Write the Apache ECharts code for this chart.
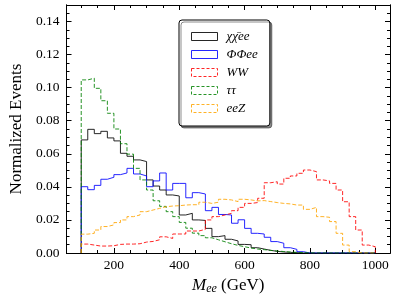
<!DOCTYPE html>
<html>
<head>
<meta charset="utf-8">
<script src="https://cdn.jsdelivr.net/npm/echarts@6/dist/echarts.min.js"></script>
<style>html,body{margin:0;padding:0;background:#fff}#c{width:394px;height:301px}</style>
</head>
<body>
<div id="c"></div>
<script>
// bins: 20 GeV wide from 100 to 1000 GeV
var binStart = 100, binWidth = 20;
var seriesNames = ['χχ̄ee', 'ΦΦee', 'WW', 'ττ', 'eeZ'];
var chiValues = [0.0684,0.0748,0.0722,0.0736,0.0696,0.0678,0.0603,0.0585,0.0563,0.0553,0.0442,0.0405,0.0381,0.0351,
  0.0345,0.0230,0.0240,0.0200,0.0197,0.0149,0.0099,0.0105,0.0083,
  0.0073,0.0052,0.0050,0.0032,0.0024,0.0016,0.0010,0.0006,0.0004,0.0002,
  0,0,0,0,0,0,0,0,0,0,0,0];
var phiValues = [0.0401,0.0383,0.0409,0.0446,0.0458,0.0474,0.0484,0.0512,0.0478,0.0466,0.0401,0.0436,0.0484,
  0.0381,0.0421,0.0421,0.0334,0.0365,0.0357,0.0256,0.0276,0.0233,
  0.0230,0.0180,0.0201,0.0149,0.0119,0.0115,0.0095,0.0069,0.0059,0.0032,0.0022,0.0008,
  0,0,0,0,0,0,0,0,0,0,0];
var wwValues = [0.0054,0.0048,0.0042,0.0042,0.0044,0.0052,0.0054,0.0054,0.0056,0.0066,0.0070,0.0080,0.0098,
  0.0088,0.0115,0.0115,0.0133,0.0133,0.0143,0.0200,0.0220,0.0230,0.0240,0.0256,0.0276,0.0300,0.0305,0.0331,
  0.0425,0.0431,0.0417,0.0452,0.0466,0.0482,0.0502,0.0492,0.0442,0.0436,0.0421,0.0381,0.0310,0.0220,0.0139,0.0048,0.0038];
var tautauValues = [0.1047,0.1057,0.0996,0.0921,0.0845,0.0750,0.0661,0.0598,0.0512,0.0442,0.0381,0.0316,0.0282,
  0.0250,0.0220,0.0185,0.0150,0.0120,0.0105,0.0092,0.0080,0.0068,0.0056,0.0046,0.0038,0.0030,0.0024,0.0020,
  0.0016,0.0012,0.0009,0.0006,0.0004,0.0002,0.0001,0,0,0,0,0,0,0,0,0,0];
var eeZValues = [0.0114,0.0119,0.0139,0.0160,0.0170,0.0184,0.0200,0.0220,0.0230,0.0250,0.0260,0.0270,0.0280,
  0.0284,0.0286,0.0290,0.0292,0.0292,0.0307,0.0300,0.0307,0.0325,0.0321,0.0311,0.0325,0.0321,0.0315,0.0317,
  0.0311,0.0305,0.0300,0.0297,0.0290,0.0290,0.0264,0.0276,0.0220,0.0216,0.0190,0.0119,0.0048,0.0008,0,0,0];
var xMajorTicks = [200, 400, 600, 800, 1000];
var xMinorTicks = [100,150,250,300,350,450,500,550,650,700,750,850,900,950];
var yMajorTicks = [0, 0.02, 0.04, 0.06, 0.08, 0.10, 0.12, 0.14];
var yMinorTicks = [0.005,0.01,0.015,0.025,0.03,0.035,0.045,0.05,0.055,0.065,0.07,0.075,0.085,0.09,0.095,0.105,0.11,0.115,0.125,0.13,0.135,0.145];

var colors = ['#000000', '#0000ff', '#ff0000', '#008000', '#ffa500'];
var dashed = [false, false, true, true, true];
var allValues = [chiValues, phiValues, wwValues, tautauValues, eeZValues];

function stepData(vals) {
  var pts = [[binStart, 0]];
  for (var i = 0; i < vals.length; i++) {
    pts.push([binStart + i * binWidth, vals[i]]);
    pts.push([binStart + (i + 1) * binWidth, vals[i]]);
  }
  pts.push([binStart + vals.length * binWidth, 0]);
  return pts;
}

var FONT = 'Liberation Serif';
var black = '#000';
function xAx(pos, ticks, len, withLabel) {
  return {
    type: 'value', min: 55, max: 1045, position: pos, gridIndex: 0,
    axisLine: { show: true, onZero: false, lineStyle: { color: black, width: 1 } },
    axisTick: { show: true, inside: true, length: len, customValues: ticks, lineStyle: { color: black, width: 1 } },
    axisLabel: withLabel ? { show: true, customValues: ticks, fontFamily: FONT, fontSize: 13.5, color: black, margin: 5,
      formatter: function (v) { return String(Math.round(v)); } } : { show: false },
    splitLine: { show: false }
  };
}
function yAx(pos, ticks, len, withLabel) {
  return {
    type: 'value', min: 0, max: 0.15, position: pos, gridIndex: 0,
    axisLine: { show: true, onZero: false, lineStyle: { color: black, width: 1 } },
    axisTick: { show: true, inside: true, length: len, customValues: ticks, lineStyle: { color: black, width: 1 } },
    axisLabel: withLabel ? { show: true, customValues: ticks, fontFamily: FONT, fontSize: 13.5, color: black, margin: 7,
      formatter: function (v) { return v.toFixed(2); } } : { show: false },
    splitLine: { show: false }
  };
}

var xAxes = [xAx('bottom', xMajorTicks, 5, true), xAx('bottom', xMinorTicks, 3, false), xAx('top', xMajorTicks, 5, false), xAx('top', xMinorTicks, 3, false)];
xAxes[0].name = '{m|M}{s|ee}{n| (GeV)}';
xAxes[0].nameLocation = 'middle';
xAxes[0].nameGap = 21;
xAxes[0].nameTextStyle = { fontFamily: FONT, color: black, fontSize: 17,
  rich: { m: { fontFamily: FONT, fontStyle: 'italic', fontSize: 17, color: black },
          s: { fontFamily: FONT, fontStyle: 'italic', fontSize: 12, color: black, verticalAlign: 'bottom', padding: [7, 0, 0, 0] },
          n: { fontFamily: FONT, fontSize: 17, color: black } } };
var yAxes = [yAx('left', yMajorTicks, 5, true), yAx('left', yMinorTicks, 3, false), yAx('right', yMajorTicks, 5, false), yAx('right', yMinorTicks, 3, false)];
yAxes[0].name = 'Normalized Events';
yAxes[0].nameLocation = 'middle';
yAxes[0].nameGap = 38;
yAxes[0].nameTextStyle = { fontFamily: FONT, fontSize: 17, color: black };

var series = seriesNames.map(function (n, k) {
  return {
    name: n, type: 'line', xAxisIndex: 0, yAxisIndex: 0,
    data: stepData(allValues[k]), showSymbol: false, symbol: 'none',
    lineStyle: { color: colors[k], width: 1, opacity: 0.85, type: dashed[k] ? [4, 2] : 'solid' },
    itemStyle: { color: colors[k] },
    animation: false
  };
});

var chart = echarts.init(document.getElementById('c'), null, { renderer: 'canvas' });
chart.setOption({
  animation: false,
  grid: { left: 60, top: 5, width: 330, height: 248, containLabel: false },
  xAxis: xAxes,
  yAxis: yAxes,
  legend: {
    left: 179, top: 20, orient: 'vertical',
    padding: [10, 12, 11, 12],
    itemWidth: 26, itemHeight: 8, itemGap: 5,
    backgroundColor: '#fff', borderColor: '#000', borderWidth: 1, borderRadius: 3,
    shadowColor: 'rgba(0,0,0,0.45)', shadowOffsetX: 2, shadowOffsetY: 2, shadowBlur: 0,
    icon: 'rect',
    textStyle: { fontFamily: FONT, fontStyle: 'italic', fontSize: 13, color: black, width: 30, padding: [0, 0, 0, 4], lineHeight: 13 },
    data: seriesNames.map(function (n, k) {
      return { name: n, icon: 'rect',
        itemStyle: { color: 'rgba(0,0,0,0)', borderColor: colors[k], borderWidth: 1, borderType: dashed[k] ? [3, 2] : 'solid', opacity: 0.85 } };
    })
  },
  series: series
});
</script>
</body>
</html>
